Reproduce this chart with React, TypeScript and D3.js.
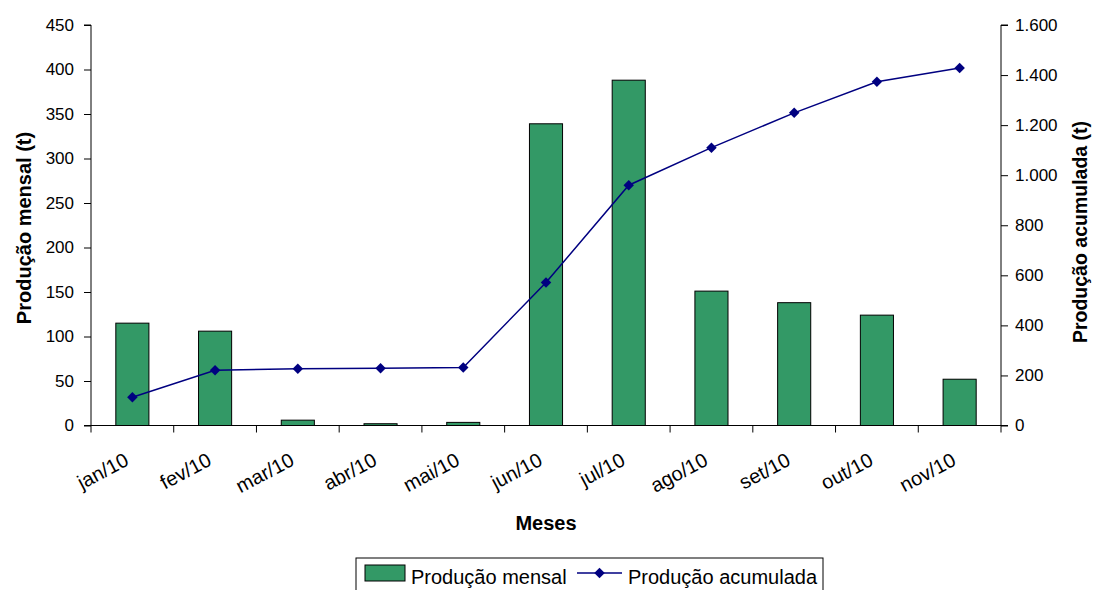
import React, { useEffect, useRef } from "react";
import * as d3 from "d3";

const months = ["jan/10", "fev/10", "mar/10", "abr/10", "mai/10", "jun/10", "jul/10", "ago/10", "set/10", "out/10", "nov/10"];
const monthly = [115, 106, 6, 2, 3.5, 339, 388, 151, 138, 124, 52];
const accumulated = [113, 221, 227, 229, 232, 571, 960, 1110, 1249, 1373, 1428];
const leftTicks = [0, 50, 100, 150, 200, 250, 300, 350, 400, 450];
const rightTicks = [0, 200, 400, 600, 800, 1000, 1200, 1400, 1600];

const W = 1093;
const H = 590;
const FONT = "'Liberation Sans', Arial, sans-serif";
const BAR_FILL = "#339966";
const LINE_COL = "#000080";

const fmtThousands = (v: number) => d3.format(",")(v).replace(/,/g, ".");

export default function App() {
  const ref = useRef<SVGSVGElement>(null);

  useEffect(() => {
    const svg = d3.select(ref.current);
    svg.selectAll("*").remove();

    const left = 91, right = 1001, top = 25, bottom = 425.5;

    const x = d3.scaleBand<string>().domain(months).range([left, right]).padding(0);
    const yL = d3.scaleLinear().domain([0, 450]).range([bottom, top]);
    const yR = d3.scaleLinear().domain([0, 1600]).range([bottom, top]);

    const g = svg.append("g");

    // bars
    const bw = x.bandwidth() * 0.4;
    g.selectAll("rect.bar")
      .data(monthly)
      .join("rect")
      .attr("class", "bar")
      .attr("x", (_, i) => x(months[i])! + x.bandwidth() / 2 - bw / 2)
      .attr("y", (d) => yL(d))
      .attr("width", bw)
      .attr("height", (d) => bottom - yL(d))
      .attr("fill", BAR_FILL)
      .attr("stroke", "#000")
      .attr("stroke-width", 1);

    // left axis
    const axL = d3.axisLeft(yL).tickValues(leftTicks).tickSize(7).tickPadding(10).tickFormat((d) => String(d));
    const gl = g.append("g").attr("transform", `translate(${left},0)`).call(axL);
    gl.select(".domain").attr("stroke", "#000").attr("d", `M-7,${top}H0V${bottom}H-7`);
    gl.selectAll(".tick line").attr("stroke", "#000");
    gl.selectAll("text").attr("font-family", FONT).attr("font-size", 17).attr("fill", "#000");

    // right axis
    const axR = d3.axisRight(yR).tickValues(rightTicks).tickSize(7).tickPadding(7).tickFormat((d) => fmtThousands(+d));
    const gr = g.append("g").attr("transform", `translate(${right},0)`).call(axR);
    gr.select(".domain").attr("stroke", "#000").attr("d", `M7,${top}H0V${bottom}H7`);
    gr.selectAll(".tick line").attr("stroke", "#000");
    gr.selectAll("text").attr("font-family", FONT).attr("font-size", 17).attr("fill", "#000");

    // category axis: ticks at band edges
    const gx = g.append("g");
    gx.append("line").attr("x1", left).attr("x2", right).attr("y1", bottom).attr("y2", bottom).attr("stroke", "#000");
    const edges = months.map((m) => x(m)!).concat([right]);
    gx.selectAll("line.tk")
      .data(edges)
      .join("line")
      .attr("class", "tk")
      .attr("x1", (d) => d)
      .attr("x2", (d) => d)
      .attr("y1", bottom)
      .attr("y2", bottom + 7)
      .attr("stroke", "#000");
    gx.selectAll("text.cat")
      .data(months)
      .join("text")
      .attr("class", "cat")
      .attr("transform", (d) => `translate(${x(d)! + x.bandwidth() / 2 - 9},${bottom + 26}) rotate(-28)`)
      .attr("text-anchor", "end")
      .attr("dy", "0.72em")
      .attr("font-family", FONT)
      .attr("font-size", 20)
      .text((d) => d);

    // accumulated line
    const line = d3
      .line<number>()
      .x((_, i) => x(months[i])! + x.bandwidth() / 2)
      .y((d) => yR(d));
    g.append("path").datum(accumulated).attr("d", line).attr("fill", "none").attr("stroke", LINE_COL).attr("stroke-width", 1.5);
    const diamond = d3.symbol().type(d3.symbolDiamond2).size(70);
    g.selectAll("path.mk")
      .data(accumulated)
      .join("path")
      .attr("class", "mk")
      .attr("d", diamond as any)
      .attr("transform", (d, i) => `translate(${x(months[i])! + x.bandwidth() / 2},${yR(d)})`)
      .attr("fill", LINE_COL);

    // axis titles
    svg.append("text")
      .attr("transform", `translate(31,228) rotate(-90)`)
      .attr("text-anchor", "middle")
      .attr("font-family", FONT).attr("font-weight", "bold").attr("font-size", 20)
      .text("Produção mensal (t)");
    svg.append("text")
      .attr("transform", `translate(1087,232) rotate(-90)`)
      .attr("text-anchor", "middle")
      .attr("font-family", FONT).attr("font-weight", "bold").attr("font-size", 19.5)
      .text("Produção acumulada (t)");
    svg.append("text")
      .attr("x", 546).attr("y", 530)
      .attr("text-anchor", "middle")
      .attr("font-family", FONT).attr("font-weight", "bold").attr("font-size", 20)
      .text("Meses");

    // legend
    const lg = svg.append("g");
    lg.append("rect").attr("x", 356).attr("y", 558).attr("width", 467).attr("height", 40).attr("fill", "#fff").attr("stroke", "#000");
    lg.append("rect").attr("x", 365).attr("y", 565).attr("width", 40).attr("height", 16).attr("fill", BAR_FILL).attr("stroke", "#000");
    lg.append("text").attr("x", 411).attr("y", 584).attr("font-family", FONT).attr("font-size", 20).text("Produção mensal");
    lg.append("line").attr("x1", 577).attr("x2", 622).attr("y1", 573).attr("y2", 573).attr("stroke", LINE_COL).attr("stroke-width", 1.5);
    lg.append("path").attr("d", diamond as any).attr("transform", "translate(599.5,573)").attr("fill", LINE_COL);
    lg.append("text").attr("x", 628).attr("y", 584).attr("font-family", FONT).attr("font-size", 20).text("Produção acumulada");
  }, []);

  return (
    <svg
      ref={ref}
      width={W}
      height={H}
      style={{ position: "absolute", left: 0, top: 0, background: "#fff", display: "block" }}
    />
  );
}
